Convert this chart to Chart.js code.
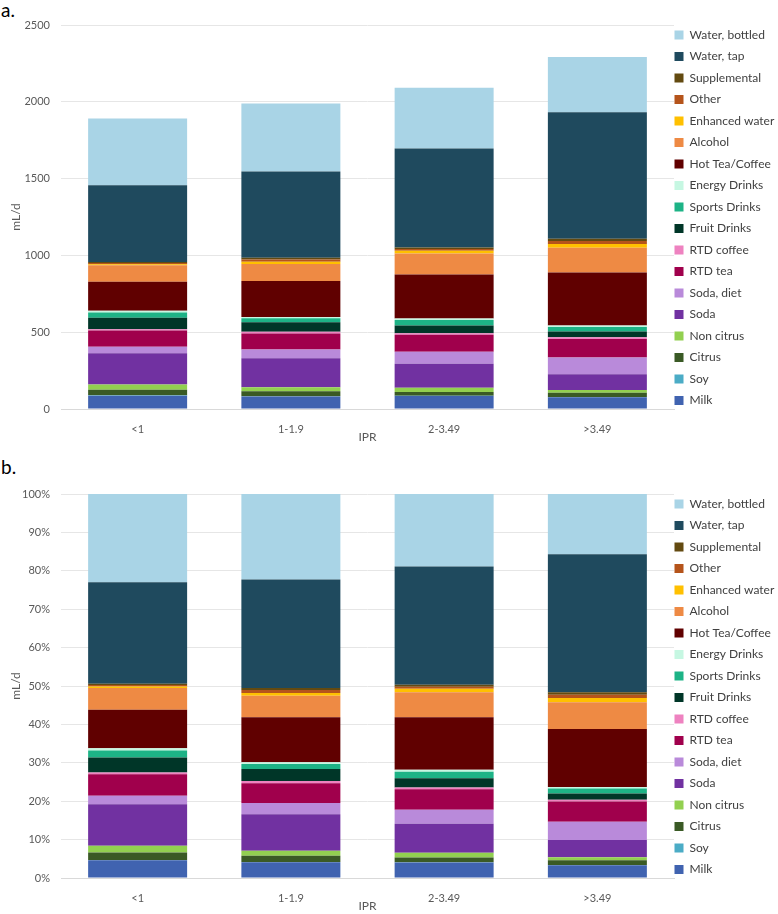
<!DOCTYPE html>
<html>
<head>
<meta charset="utf-8">
<script src="https://cdn.jsdelivr.net/npm/chart.js@4"></script>
<style>
  html, body { margin: 0; padding: 0; background: #fff; overflow: hidden; width: 778px; height: 914px; }
  .panel-label { position: absolute; left: 1px; font-family: "Lato", sans-serif; font-size: 19px; color: #000; line-height: 1; }
  .wrap { position: absolute; left: 0; width: 778px; height: 450px; }
</style>
</head>
<body>
<div class="panel-label" style="top:0px">a.</div>
<div class="wrap" style="top:0px"><canvas id="chartA" width="778" height="450"></canvas></div>
<div class="panel-label" style="top:457px">b.</div>
<div class="wrap" style="top:469px"><canvas id="chartB" width="778" height="450"></canvas></div>
<script>
// ---- Data (mL/d by income-to-poverty ratio) ----
const categories = ['<1', '1-1.9', '2-3.49', '>3.49'];
const milk          = [87, 81, 84, 76];
const soy           = [2, 2, 2, 2];
const citrus        = [36, 32, 25, 28];
const nonCitrus     = [34, 26, 27, 18];
const soda          = [204, 189, 157, 103];
const sodaDiet      = [42, 58, 77, 108];
const rtdTea        = [106, 103, 111, 121];
const rtdCoffee     = [9, 12, 10, 11];
const fruitDrinks   = [74, 62, 50, 37];
const sportsDrinks  = [34, 26, 36, 30];
const energyDrinks  = [11, 8, 10, 9];
const hotTeaCoffee  = [189, 234, 287, 346];
const alcohol       = [108, 111, 136, 160];
const enhancedWater = [7, 14, 18, 25];
const other         = [8, 16, 12, 20];
const supplemental  = [6, 10, 10, 14];
const waterTap      = [500, 562, 644, 824];
const waterBottled  = [434, 443, 395, 360];

const yTicksA = [0, 500, 1000, 1500, 2000, 2500];
const yTicksB = [0, 10, 20, 30, 40, 50, 60, 70, 80, 90, 100];

// series in stacking order (bottom -> top)
const seriesNames = ['Milk', 'Soy', 'Citrus', 'Non citrus', 'Soda', 'Soda, diet', 'RTD tea', 'RTD coffee',
  'Fruit Drinks', 'Sports Drinks', 'Energy Drinks', 'Hot Tea/Coffee', 'Alcohol', 'Enhanced water',
  'Other', 'Supplemental', 'Water, tap', 'Water, bottled'];
const seriesValues = [milk, soy, citrus, nonCitrus, soda, sodaDiet, rtdTea, rtdCoffee, fruitDrinks,
  sportsDrinks, energyDrinks, hotTeaCoffee, alcohol, enhancedWater, other, supplemental, waterTap, waterBottled];
const seriesColors = ['#4063B0', '#4BACC6', '#3A5A25', '#92D050', '#7131A1', '#B98ADA', '#A0004C', '#EE82C0',
  '#003628', '#1DB386', '#C6F7E2', '#600000', '#EE8A44', '#FFC000', '#B5541B', '#634A10', '#1F4A5E', '#A9D4E6'];

// 100% stacked panel: each value as share of its category total
const totals = categories.map((_, i) => seriesValues.reduce((s, arr) => s + arr[i], 0));
const seriesShares = seriesValues.map(arr => arr.map((v, i) => v / totals[i] * 100));

Chart.defaults.font.family = 'Lato, "Open Sans", sans-serif';
Chart.defaults.animation = false;

const legendShift = {
  id: 'legendShift',
  afterLayout(chart) {
    chart.legend.left -= 9;
    chart.legend.width += 9;
  }
};

function makeChart(id, valuesList, yMax, yStep, tickFmt) {
  return new Chart(document.getElementById(id), {
    type: 'bar',
    data: {
      labels: categories,
      datasets: seriesNames.map((name, k) => ({
        label: name,
        data: valuesList[k],
        backgroundColor: seriesColors[k],
        borderWidth: 0,
        categoryPercentage: 0.646,
        barPercentage: 1.0
      }))
    },
    options: {
      responsive: false,
      animation: false,
      layout: { padding: { top: 19.5, left: 0, right: 0, bottom: 0 } },
      plugins: {
        title: { display: true, text: ' ', padding: 0, font: { size: 5, lineHeight: 1.1 } },
        tooltip: { enabled: false },
        legend: {
          position: 'right',
          align: 'start',
          reverse: true,
          maxWidth: 104,
          labels: {
            boxWidth: 9,
            boxHeight: 9,
            padding: 9.5,
            color: '#404040',
            font: { size: 12 }
          }
        }
      },
      scales: {
        x: {
          stacked: true,
          grid: { display: false },
          border: { display: true, color: '#D9D9D9', width: 1 },
          ticks: { color: '#595959', font: { size: 11 }, padding: 6 },
          title: { display: true, text: 'IPR', color: '#595959', font: { size: 12 }, padding: { top: 0, bottom: 6 } },
          afterFit(scale) { scale.height = 41; }
        },
        y: {
          stacked: true,
          min: 0,
          max: yMax,
          grid: { color: '#E6E6E6', drawTicks: false, lineWidth: 1 },
          border: { display: false },
          ticks: { stepSize: yStep, color: '#595959', font: { size: 11 }, padding: 11, callback: tickFmt },
          title: { display: true, text: 'mL/d', color: '#595959', font: { size: 12 }, padding: { top: 9, bottom: 0 } },
          afterFit(scale) { scale.width = 61; }
        }
      }
    },
    plugins: [legendShift]
  });
}

makeChart('chartA', seriesValues, yTicksA[yTicksA.length - 1], yTicksA[1] - yTicksA[0], v => v);
makeChart('chartB', seriesShares, yTicksB[yTicksB.length - 1], yTicksB[1] - yTicksB[0], v => v + '%');
</script>
</body>
</html>
